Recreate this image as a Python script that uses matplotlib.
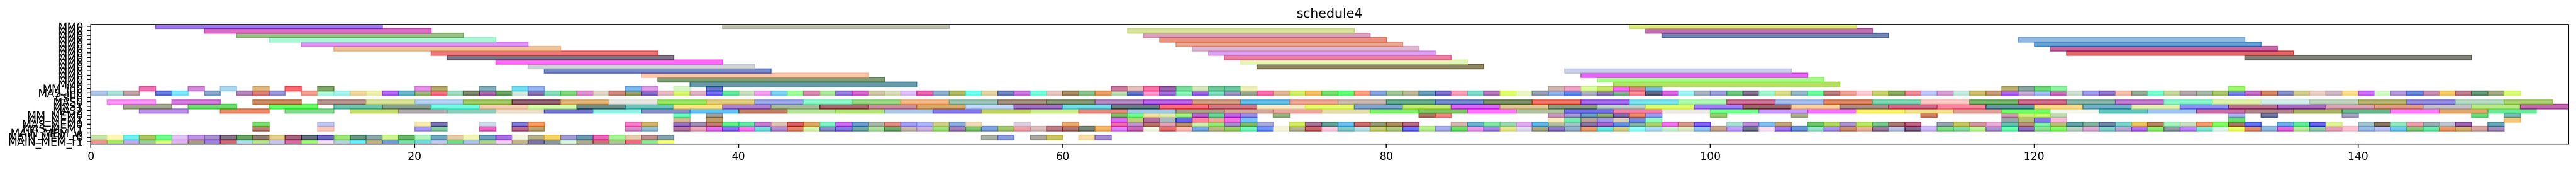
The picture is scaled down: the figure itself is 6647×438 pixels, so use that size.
import matplotlib
matplotlib.use('Agg')
import matplotlib.pyplot as plt

# bottom row first
row_names = ['MAIN_MEM_r1', 'MAIN_MEM_r0', 'MAIN_MEM_w', 'MAS_MEM1', 'MAS_MEM0', 'MM_MEM1', 'MM_MEM0',
             'MAS2', 'MAS1', 'MAS0', 'CSE0', 'MAS_in0', 'MM_in0',
             'MM0', 'MM0', 'MM0', 'MM0', 'MM0', 'MM0', 'MM0', 'MM0', 'MM0', 'MM0', 'MM0', 'MM0', 'MM0', 'MM0']
row_lens = [1, 1, 1, 1, 1, 1, 1, 3, 3, 3, 1, 1, 1, 14, 14, 14, 14, 14, 14, 14, 14, 14, 14, 14, 14, 14, 14]

# shown (blended) colour of each bar, per row, top row is s26
s26 = [4, 39, 95]
c26 = ['#9b78e6', '#bdbdb0', '#d9e882']
s25 = [7, 64, 96]
c25 = ['#dd6fc6', '#d6e29c', '#be72ae']
s24 = [9, 65, 97]
c24 = ['#9cbf87', '#daa1bd', '#6f83ae']
s23 = [11, 66, 119]
c23 = ['#adf7d8', '#e8937f', '#92b9e0']
s22 = [13, 67, 120]
c22 = ['#de97f5', '#ecaa95', '#68a4d4']
s21 = [15, 68, 121]
c21 = ['#eec39a', '#dfb7d2', '#c469a5']
s20 = [21, 69, 122]
c20 = ['#ee777a', '#dba2f2', '#dc6a6a']
s19 = [22, 70, 133]
c19 = ['#807786', '#ec82a3', '#81837a']
s18 = [25, 71]
c18 = ['#ff6cf5', '#e1f6b9']
s17 = [27, 72]
c17 = ['#cfd3d6', '#8c8666']
s16 = [28, 91]
c16 = ['#7a8ccd', '#cbd1e9']
s15 = [34, 92]
c15 = ['#fec6a8', '#e563f5']
s14 = [35, 93]
c14 = ['#809d78', '#aaf98f']
s13 = [37, 94]
c13 = ['#6498a8', '#b4df62']

s12 = [3, 6, 8, 10, 12, 14, 20, 21, 24, 26, 27, 33, 34, 36, 38,
       63, 64, 65, 66, 67, 68, 69, 70, 71, 90, 91, 92, 93, 94, 95, 96, 118, 119, 120, 121, 132]
c12 = ['#ee73b4', '#d28bd8', '#a9d7f0', '#deb77f', '#ff6a72', '#82a76a', '#e590ea', '#b4aa6b',
       '#83afba', '#72dcf2', '#98b4f0', '#7ab8f2', '#df9de6', '#d8f8c8', '#6476c8',
       '#cc7aa0', '#e3c1bb', '#f872a8', '#9a66ad', '#7cdc9c', '#d4e6ba', '#70c898', '#6cc8a0', '#f0efb8',
       '#d0b5b0', '#eca2c4', '#d8fa9c', '#c8e668', '#fa66f6', '#d98088', '#76b8d8',
       '#bab070', '#8aa5a0', '#6ed87a', '#8ef5a0', '#9cf86a']

s11 = [0, 1, 2, 4, 5, 7, 9, 10, 11, 13, 14, 15, 16, 17, 18, 19, 20, 21, 22, 23, 24, 25, 26, 27, 28, 29, 30, 31, 32, 33,
       34, 35, 36, 37, 38, 39, 40, 41, 42, 43, 44, 45, 46, 47, 48, 49, 50, 51, 52, 53, 54, 55, 56, 57, 58, 59, 60, 61, 62,
       63, 64, 65, 66, 67, 68, 69, 70, 71, 72, 73, 74, 75, 76, 77, 78, 79, 80, 81, 82, 83, 84, 85, 86, 87, 88, 89, 90,
       91, 92, 93, 94, 95, 96, 97, 98, 99, 100, 101, 102, 103, 104, 105, 106, 107, 108, 109, 110, 111, 112, 113, 114,
       115, 116, 117, 118, 119, 120, 121, 122, 123, 124, 125, 126, 127, 128, 129, 130, 131, 132, 133, 134, 135, 136,
       137, 138, 139, 140, 141, 142, 143, 144, 145, 146, 147, 148, 149]
c11 = ['#b0c8e8', '#ace0d8', '#c0a4a8', '#6a7de0', '#80e8ff', '#8aa8cc', '#b488b8', '#dc8080', '#9c98d8', '#f4a090',
       '#b0fbe0', '#a8f5f0', '#f0d8a0', '#eef0b0', '#b468f5', '#68b8cc', '#98bb74', '#ff7088', '#a0dcc0', '#808a70',
       '#b068b0', '#6da463', '#d8e8dc', '#9078b4', '#88e0bc', '#84d880', '#e090d0', '#e0d8c8', '#cc8a80', '#98a068',
       '#8870cc', '#e4bcc0', '#d8f870', '#e0b4c8', '#7870fa', '#64e8a0', '#c8e0c0', '#f5a0f0', '#80d4f0', '#a0ff9c',
       '#d88cb0', '#b0e8a0', '#9880e0', '#d868d0', '#d0c8a8', '#d8dcb8', '#e0c0fa', '#e868b0', '#90b0d0', '#b0bc60',
       '#70fff0', '#e2d4a4', '#7088c0', '#cc78e0', '#78ffe0', '#e6c8c0', '#a88c68', '#8cc490', '#e8a060',
       '#b8e0b0', '#6878d0', '#fc9ccc', '#a070d8', '#8cf4bc', '#a068ec', '#80dcc0', '#9c98c0', '#9cac94', '#fc70b0',
       '#deb898', '#d0f070', '#f4c068', '#78e070', '#60ff78', '#ffa084', '#88a4dc', '#a0c898', '#bcbc98', '#6ca0b8',
       '#7c74cc', '#fca0bc', '#80dccc', '#b478bc', '#e0ff70', '#ecf8c8', '#98a0b4', '#90b4ec', '#5c90f0', '#b0b0c8',
       '#9080b4', '#80b490', '#fc8c98', '#5c6a84', '#d868e0', '#a4f4f4', '#a8b4c0', '#9ca0e0', '#70c880', '#84708c',
       '#a4f8d0', '#dcdc8c', '#98b8c8', '#70fca0', '#b8807c', '#f0a498', '#fcccd4', '#c8d470', '#8cac60', '#ee8c98',
       '#c0c8fc', '#d8a0d4', '#c4ece0', '#ccc070', '#c89c78', '#b468fc', '#c8a8d8', '#a8bcfc', '#d070c0', '#cce0d0',
       '#a49cec', '#9478cc', '#f4c0ac', '#98ac98', '#7cffd0', '#c8d8a0', '#b4a8ac', '#a8b8a8', '#acc870', '#7c88f0',
       '#c470c8', '#d48860', '#8890c8', '#d4cc90', '#ecd0c8', '#d0b8c4', '#fce08c', '#cc70fc', '#d4fcc8', '#b49cdc',
       '#6c88d8', '#c890b4', '#f4cc6c', '#c08090', '#68987c', '#a4ac84', '#dcfe7c']

s10 = []
c10 = []

s9 = [1, 5, 10, 14, 17, 20, 23, 26, 29, 32, 35, 38, 41, 44, 47, 50, 53, 56, 59, 62, 65, 68, 71, 74, 77, 80, 83, 86, 89,
      92, 95, 98, 101, 104, 107, 110, 113, 116, 119, 122, 125, 128, 131, 134, 137, 140, 143, 146, 149]
c9 = ['#fe96fa', '#d87ee0', '#d09068', '#bc9890', '#dce49c', '#b8d4f4', '#a4cc68', '#986878', '#e4b87c', '#e8e8e4',
      '#9ce868', '#e4cf80', '#a0acec', '#90fbcc', '#9cdc88', '#f6bb8c', '#9cc8b8', '#a89480', '#8c9c78', '#b88cc4',
      '#bc68ec', '#d4a084', '#68c0ea', '#eeaa98', '#ccbcb0', '#6cb090', '#7890d0', '#80946c', '#f47868', '#a870f0',
      '#80e4f0', '#b0fcb4', '#d07898', '#a8c0f0', '#e08c68', '#80dcb4', '#fcccc8', '#7cb870', '#d47090', '#8cb8ac',
      '#c480d4', '#8cf8cc', '#e0f4ac', '#d4f0ec', '#c0d8c0', '#b8b874', '#9890e4', '#b8dcc4', '#acd474']

s8 = [2, 6, 11, 15, 18, 21, 24, 27, 30, 33, 36, 39, 42, 45, 48, 51, 54, 57, 60, 63, 66, 69, 72, 75, 78, 81, 84, 87, 90,
      93, 96, 99, 102, 105, 108, 111, 114, 117, 120, 123, 126, 129, 132, 135, 138, 141, 144, 147, 150]
c8 = ['#a2a88e', '#6cdc6c', '#68fa60', '#6cc4b0', '#88a090', '#70fce0', '#f4ccb0', '#d0fca8', '#6c8c88', '#6cc4bc',
      '#fce488', '#b080d0', '#a8bc9c', '#a86870', '#cc8ca0', '#d8a868', '#c0d8fc', '#a070c8', '#70dce8', '#687c84',
      '#fc6c78', '#d47888', '#f8ecc8', '#e4fc6c', '#80a4d0', '#c4e870', '#dc64f8', '#dcc894', '#8c9c80', '#bccfc8',
      '#e0fc6c', '#a47cfa', '#986468', '#fcd09c', '#a88c88', '#d06088', '#fc84a0', '#6498a4', '#fcd888', '#70b0c8',
      '#e4f0b0', '#8c90f4', '#b87090', '#a868c0', '#dca0b8', '#e09c84', '#c4c0c8', '#b8e884', '#c068b0']

s7 = [3, 8, 12, 16, 19, 22, 25, 28, 31, 34, 37, 40, 43, 46, 49, 52, 55, 58, 61, 64, 67, 70, 73, 76, 79, 82, 85, 88, 91,
      94, 97, 100, 103, 106, 109, 112, 115, 118, 121, 124, 127, 130, 133, 136, 139, 142, 145, 148]
c7 = ['#b890e4', '#e48c6c', '#88d890', '#c8dc74', '#b0a8ac', '#90ccbc', '#ece0cc', '#7074c4', '#98f0e4', '#8890c4',
      '#64c0f0', '#bc8068', '#b8e49c', '#b4e47c', '#acc8e4', '#8478e0', '#c0d068', '#ccec94', '#e08c80', '#a4cce4',
      '#a8a088', '#d0a89c', '#e8a8a0', '#e4dcac', '#84ec70', '#80c468', '#fc78f8', '#b0c4a4', '#7070e0', '#ec84a8',
      '#eee8e4', '#78fc90', '#c89cf8', '#ec78f8', '#f8f070', '#f4e090', '#e0a098', '#78f870', '#f4f8ec', '#68c4bc',
      '#a0c4f0', '#c470a4', '#ac8488', '#a8b468', '#6cb48c', '#f880f8', '#e0a870', '#70e89c']

s6 = [36, 38, 63, 64, 65, 66, 67, 68, 69, 70, 71, 73, 82, 83, 90, 91, 92, 93, 94, 95, 96, 100, 105, 113, 118, 119, 120,
      121, 132, 134, 139, 147, 149]
c6 = ['#60ffb8', '#a8a098', '#84c06c', '#70ff8c', '#f4e4a0', '#e4ecb0', '#a0f880', '#b864d4', '#60dc9c', '#c464ec',
      '#9c90ec', '#94b484', '#b07868', '#f88888', '#cc98c0', '#a898cc', '#70a0c0', '#90ac70', '#8070ac', '#ec9068',
      '#98a0fc', '#9cc870', '#acb08c', '#d08068', '#d09cb4', '#d4ec88', '#ccfc70', '#c0dcb4', '#a8b4f0', '#6c7ca4',
      '#a8a0c4', '#6cdc80', '#80b8b8']

s5 = [36, 38, 63, 64, 65, 66, 67, 68, 69, 70, 71, 90, 91, 92, 93, 94, 95, 96, 118, 119, 120, 121, 132, 149]
c5 = ['#d4b890', '#bc9c68', '#d868f4', '#bcd078', '#b070a0', '#a8b8c0', '#6068e8', '#fc88a0', '#eca898', '#f070dc',
      '#78c0fc', '#f8ecc0', '#78e8b0', '#b8a098', '#a098e8', '#d8d0b8', '#7088e0', '#98f8c0', '#98a4a8', '#b8bc80',
      '#8478e8', '#f8b8dc', '#68dc6c', '#f4c878']

s4 = [10, 14, 20, 21, 24, 26, 27, 33, 34, 36, 37, 38, 39, 40, 41, 42, 43, 44, 45, 46, 47, 48, 49, 50, 51, 52, 53, 54, 57,
      60, 63, 64, 65, 66, 67, 68, 69, 70, 71, 72, 74, 75, 76, 77, 78, 79, 80, 81, 84, 85, 86, 87, 88, 89, 90, 91, 92,
      93, 94, 95, 96, 97, 98, 99, 101, 102, 103, 104, 106, 107, 108, 109, 110, 111, 112, 114, 115, 116, 117, 118, 119,
      120, 121, 122, 123, 124, 125, 126, 127, 128, 129, 130, 131, 132, 133, 135, 136, 137, 138, 140, 141, 142, 143,
      144, 145, 146, 148]
c4 = ['#80e070', '#c0c8f0', '#f8eeb0', '#7c78b0', '#cfdcec', '#8480d8', '#fc9c60', '#fc80c8', '#d0b870', '#9874c4',
      '#a490b4', '#c08078', '#50f090', '#68e8a8', '#c880d0', '#e0c4b8', '#d46468', '#e0a868', '#84f4c8', '#cc70f0',
      '#70a0d0', '#acb8a8', '#e09088', '#a8a0f8', '#b0b8fc', '#d0d08c', '#90b0e0', '#f0dcb8', '#e0d0e0', '#e8ac78',
      '#f070b0', '#c098d0', '#b87870', '#e0a8b8', '#bc9470', '#d0f0ac', '#98ec78', '#a890cc', '#84bc6c', '#acb0dc',
      '#d4ec60', '#a87898', '#68a498', '#70c0f0', '#cc7070', '#989c78', '#ac9068', '#b87088', '#d4b8b0', '#70b4d0',
      '#88e8a8', '#a0d8b0', '#e4acf0', '#5cb8e4', '#b4c0a0', '#a8c4cc', '#8878a8', '#a868c4', '#6494ec', '#88b4a4',
      '#acd074', '#f078e8', '#d49c90', '#8468f4', '#ace0d4', '#b890d4', '#88c0f0', '#c4a880', '#70c870', '#b4d868',
      '#ac98cc', '#bce868', '#80c890', '#ac7c78', '#c06888', '#98a4b0', '#c8c860', '#d498a0', '#ecb0d8', '#64c4b4',
      '#bc9080', '#88f0b0', '#bcc078', '#68a4a8', '#88b4a4', '#7488a8', '#80d4cc', '#ecc860', '#b88868', '#a8f4c0',
      '#cce0c0', '#f49c70', '#84fc60', '#a87850', '#5c78f0', '#70b0ec', '#60ec9c', '#6c68ec', '#e0f49c', '#a4c4d0',
      '#887860', '#98e8c0', '#eca0b0', '#9cb0b4', '#c0c8d0', '#9c68b0', '#70a8b8']

s3 = [10, 14, 20, 21, 24, 26, 27, 33, 34, 36, 37, 38, 39, 40, 41, 42, 43, 44, 45, 46, 47, 48, 49, 50, 51, 52, 53, 54, 55,
      56, 57, 58, 59, 60, 61, 62, 63, 64, 65, 66, 67, 68, 69, 70, 71, 72, 73, 74, 75, 76, 77, 78, 79, 80, 81, 82, 83,
      84, 85, 86, 87, 88, 89, 90, 91, 92, 93, 94, 95, 96, 97, 98, 99, 100, 101, 102, 103, 104, 105, 106, 107, 108, 109,
      110, 111, 112, 113, 114, 115, 116, 117, 118, 119, 120, 121, 122, 123, 124, 125, 126, 127, 128, 129, 130, 131,
      132, 133, 134, 135, 136, 137, 138, 139, 140, 141, 142, 143, 144, 145, 146, 147, 148]
c3 = ['#b88070', '#fcc8bc', '#a898f8', '#84c8a0', '#e868c0', '#b86890', '#b8a070', '#d48cc8', '#94bcd4', '#b074a0',
      '#e8a4b8', '#e070ec', '#8870f0', '#f878ec', '#70dcdc', '#b48cd4', '#e08468', '#d4f4a8', '#8890c8', '#8478dc',
      '#70a8a8', '#acdc9c', '#70a870', '#c4b8b0', '#ccb0dc', '#9ce078', '#a480b8', '#80c470', '#80a0dc', '#a4c470',
      '#eca0a8', '#d8bcbc', '#b87c84', '#b07470', '#788478', '#f4b468', '#e080fc', '#c868b4', '#f0f4e0', '#e07070',
      '#fcb8b0', '#78a8e0', '#b8b884', '#98cc68', '#70f4b8', '#6c90fc', '#f4f4dc', '#b4b490', '#c46468', '#fcc8e0',
      '#80c8c8', '#b8dce4', '#c4cc70', '#acc880', '#7070f0', '#b8ec8c', '#a8ace8', '#6cdc68', '#e898e8', '#a088e0',
      '#e4e488', '#dcd8f0', '#a4a888', '#8c78c4', '#94b0c8', '#e49c6c', '#64e4e0', '#d0cc88', '#90fcfc', '#acd8f0',
      '#c8f0d4', '#dce8c0', '#90c0f0', '#c4a490', '#c09cfc', '#707890', '#fce0f4', '#a078ec', '#6c94d4', '#98e0c8',
      '#a890ec', '#c88c70', '#e8b098', '#987c9c', '#b8c0e4', '#846488', '#ccb8f8', '#80dc84', '#88d8a0', '#b8f490',
      '#ac90cc', '#68fcac', '#8c70bc', '#8ce090', '#84f868', '#b8d0c0', '#dca8d4', '#80cec8', '#b4a8d4', '#b470e8',
      '#8ce870', '#909ca4', '#bc84f4', '#80e4cc', '#dcf4e8', '#e8fc68', '#dc8c70', '#90b8dc', '#e068dc', '#b8e898',
      '#90c8ac', '#e8a0b8', '#fcc4d4', '#98b8e4', '#bcc0f4', '#70c8ec', '#84c478', '#6ce8a8', '#e89868', '#d0b070',
      '#d4a4a4', '#a08cb8']

s2 = []
c2 = []

s1 = [0, 1, 2, 3, 4, 5, 6, 7, 8, 9, 10, 11, 12, 13, 14, 15, 16, 17, 18, 19, 20, 21, 22, 23, 24, 25, 26, 27, 28, 29, 30,
      31, 32, 33, 34, 35, 55, 56, 58, 59, 61, 62]
c1 = ['#c8e4a8', '#fff8b8', '#70f0f0', '#acc464', '#70fc8c', '#e0c4f4', '#c094e0', '#a890cc', '#847484', '#6ca464',
      '#907c70', '#e4d090', '#a4607c', '#60707c', '#6c64bc', '#a0e47c', '#609880', '#8ca8a8', '#d0f490', '#6cb46c',
      '#b4f4c0', '#70a8c0', '#e4cca8', '#f0f8b8', '#70a0c0', '#a870e0', '#f4f6e4', '#b4b08c', '#f8d464', '#a09cd4',
      '#7098b0', '#e868b8', '#a8f498', '#e4d0b0', '#bc9090', '#88a4ac', '#a8b0a4', '#8c9cd8', '#a8a8a0', '#c8c460',
      '#f4e0a8', '#a48cd0']

s0 = [0, 1, 2, 3, 4, 5, 6, 7, 8, 9, 10, 11, 12, 13, 14, 15, 16, 17, 18, 19, 20, 21, 22, 23, 24, 25, 26, 27, 28, 29, 30,
      31, 32, 33, 34, 35]
c0 = ['#f49090', '#a0e864', '#c4a4ec', '#94cc98', '#dcfc80', '#e0b0ec', '#a89c7c', '#a080e0', '#d46470', '#a8dcf4',
      '#b4e484', '#c4c4f4', '#d868a8', '#98fc68', '#f4e0ec', '#b4d0e4', '#68ecfc', '#c0b078', '#7098e0', '#78dcac',
      '#70d8e0', '#c8c4e8', '#68dc84', '#a4c0f0', '#b0d080', '#f0ccf4', '#c4b484', '#7870a8', '#8498a4', '#d4f8d0',
      '#b0a884', '#cc7474', '#acc48c', '#f46484', '#84ec90', '#f8ff70']

all_starts = [s0, s1, s2, s3, s4, s5, s6, s7, s8, s9, s10, s11, s12, s13, s14, s15, s16, s17, s18, s19, s20, s21, s22,
              s23, s24, s25, s26]
all_colors = [c0, c1, c2, c3, c4, c5, c6, c7, c8, c9, c10, c11, c12, c13, c14, c15, c16, c17, c18, c19, c20, c21, c22,
              c23, c24, c25, c26]

bar_alpha = 0.6


def base_color(shown):
    # the colours above were read after blending on white
    rgb = matplotlib.colors.to_rgb(shown)
    return tuple(min(max((v - (1 - bar_alpha)) / bar_alpha, 0), 1) for v in rgb)


fig = plt.figure(figsize=(6647 / 200, 438 / 200), dpi=200)
ax = fig.add_axes([234 / 6647, 1 - 370.7 / 438, (6628 - 234) / 6647, (370.7 - 62.7) / 438])

for row in range(len(row_names)):
    for start, shown in zip(all_starts[row], all_colors[row]):
        col = base_color(shown)
        ax.barh(row, row_lens[row], left=start, height=1, color=col, edgecolor=col, alpha=bar_alpha)

ax.set_xlim(0, 153)
ax.set_ylim(-0.46, 26.44)
ax.set_yticks(range(len(row_names)))
ax.set_yticklabels(row_names)
ax.set_xticks([0, 20, 40, 60, 80, 100, 120, 140])
ax.set_title('schedule4')

fig.savefig('out.png', dpi=200)
